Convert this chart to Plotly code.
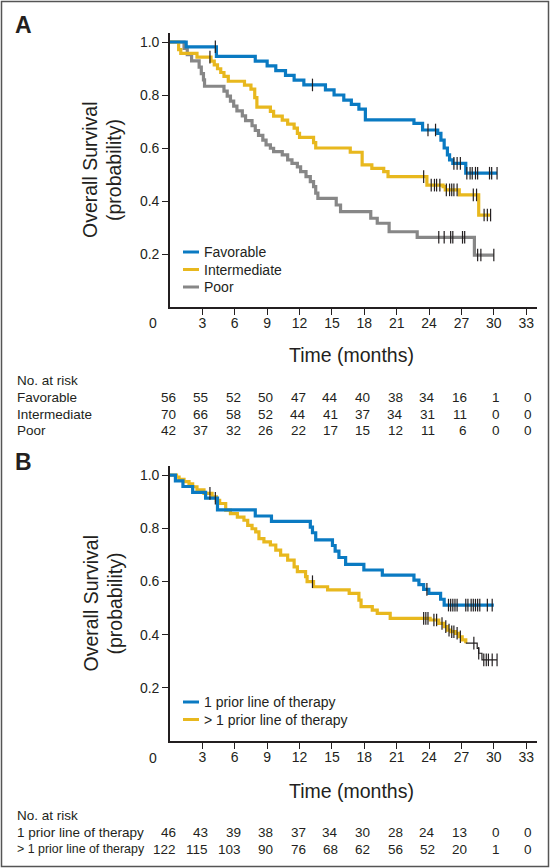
import numpy as np
import plotly.graph_objects as go

W, H = 551, 868

# ---------------- Panel A data ----------------
A_FAV_T = [0, 1.5, 4.3, 7.9, 9.0, 9.8, 10.7, 11.5, 12.4, 14.4, 15.2, 16.1, 16.8, 17.5, 18.1,
           22.6, 23.4, 24.8, 25.1, 25.4, 25.7, 25.9, 26.2, 27.4]
A_FAV_S = [1.0, 0.982, 0.946, 0.928, 0.910, 0.892, 0.874, 0.856, 0.838, 0.819, 0.800, 0.781,
           0.765, 0.747, 0.706, 0.693, 0.668, 0.655, 0.630, 0.600, 0.574, 0.555, 0.542, 0.505]
A_FAV_END = 30.3
A_FAV_CENS = [4.2, 13.2, 23.9, 24.6, 26.3, 26.6, 26.9, 27.5, 27.8, 28.0, 28.3, 28.5, 29.6, 29.8, 30.3]

A_INT_T = [0, 0.8, 1.0, 2.5, 3.8, 4.1, 4.4, 4.7, 5.0, 5.4, 6.9, 7.5, 7.85, 8.05, 9.3, 9.6, 10.4,
           10.9, 11.5, 11.8, 12.0, 13.3, 13.5, 16.7, 17.8, 18.7, 19.8, 20.2, 23.8, 25.3, 25.5,
           26.8, 28.6]
A_INT_S = [1.0, 0.971, 0.957, 0.943, 0.928, 0.914, 0.899, 0.885, 0.870, 0.852, 0.837, 0.822,
           0.790, 0.754, 0.738, 0.720, 0.705, 0.690, 0.675, 0.655, 0.640, 0.620, 0.600, 0.584,
           0.536, 0.523, 0.511, 0.492, 0.460, 0.454, 0.442, 0.423, 0.347]
A_INT_END = 29.7
A_INT_CENS = [3.7, 23.5, 24.2, 24.5, 24.7, 25.0, 25.6, 25.9, 26.1, 26.3, 26.6, 28.1, 28.4,
              29.1, 29.4, 29.7]

A_POOR_T = [0, 1.3, 1.6, 2.0, 2.7, 2.9, 3.1, 3.2, 5.0, 5.3, 5.6, 5.9, 6.2, 6.7, 7.0, 7.6, 7.9,
            8.2, 8.6, 8.9, 9.3, 9.6, 10.4, 10.9, 11.3, 11.8, 12.1, 12.6, 13.0, 13.3, 13.5, 13.7,
            15.4, 15.8, 18.6, 19.2, 20.3, 22.9, 28.2]
A_POOR_S = [1.0, 0.976, 0.952, 0.929, 0.905, 0.881, 0.857, 0.833, 0.815, 0.796, 0.777, 0.758,
            0.740, 0.721, 0.703, 0.684, 0.666, 0.648, 0.630, 0.612, 0.599, 0.586, 0.574, 0.555,
            0.542, 0.529, 0.511, 0.492, 0.473, 0.454, 0.430, 0.410, 0.385, 0.360, 0.335, 0.316,
            0.284, 0.263, 0.196]
A_POOR_END = 30.0
A_POOR_CENS = [24.9, 25.4, 26.0, 26.2, 27.1, 27.3, 28.5, 28.8, 30.0]

A_GROUPS = ["Favorable", "Intermediate", "Poor"]
A_RISK = {
    "Favorable": [56, 55, 52, 50, 47, 44, 40, 38, 34, 16, 1, 0],
    "Intermediate": [70, 66, 58, 52, 44, 41, 37, 34, 31, 11, 0, 0],
    "Poor": [42, 37, 32, 26, 22, 17, 15, 12, 11, 6, 0, 0],
}

# ---------------- Panel B data ----------------
B_ONE_T = [0, 0.5, 1.2, 2.1, 3.3, 4.4, 7.9, 9.4, 13.0, 13.2, 13.5, 15.05, 15.3, 15.65, 16.27,
           17.96, 19.67, 22.6, 23.06, 23.5, 23.98, 25.07, 25.4]
B_ONE_S = [1.0, 0.978, 0.957, 0.935, 0.913, 0.869, 0.846, 0.826, 0.804, 0.783, 0.756, 0.735,
           0.714, 0.690, 0.664, 0.643, 0.624, 0.605, 0.588, 0.570, 0.555, 0.533, 0.511]
B_ONE_END = 30.0
B_ONE_CENS = [4.2, 23.8, 25.8, 26.0, 26.2, 26.4, 26.6, 27.4, 27.6, 27.9, 28.1, 28.3, 28.5,
              28.7, 29.4, 29.85]

B_GT1_T = [0, 0.6, 0.84, 1.3, 1.76, 2.1, 2.5, 3.15, 3.9, 4.3, 4.6, 5.16, 5.6, 6.24, 6.85, 7.2,
           7.6, 7.94, 8.24, 8.7, 9.3, 9.8, 10.25, 10.9, 11.5, 11.8, 12.56, 12.7, 13.3, 14.6,
           16.6, 17.5, 17.7, 18.74, 19.2, 20.4, 24.1, 24.9, 25.4, 25.7, 26.0, 26.45, 26.76,
           27.07, 27.4, 28.46, 28.6, 28.9]
B_GT1_S = [1.0, 0.992, 0.984, 0.975, 0.967, 0.956, 0.944, 0.931, 0.918, 0.905, 0.893, 0.868,
           0.855, 0.842, 0.830, 0.811, 0.798, 0.786, 0.761, 0.749, 0.737, 0.718, 0.699, 0.680,
           0.655, 0.637, 0.618, 0.599, 0.580, 0.568, 0.555, 0.530, 0.505, 0.492, 0.480, 0.461,
           0.455, 0.442, 0.430, 0.417, 0.411, 0.405, 0.392, 0.380, 0.368, 0.348, 0.330, 0.305]
B_GT1_END = 30.3
B_GT1_TAIL = 27.4   # from here on the curve is drawn as a thin black line
B_GT1_CENS = [3.7, 13.2, 23.5, 23.7, 23.9, 24.45, 24.7, 25.2, 25.55, 25.85, 26.1, 26.3, 26.6,
              26.9, 28.15, 28.6, 29.07, 29.3, 29.5, 29.85, 30.3]

B_GROUPS = ["1 prior line of therapy", "> 1 prior line of therapy"]
B_RISK = {
    "1 prior line of therapy": [46, 43, 39, 38, 37, 34, 30, 28, 24, 13, 0, 0],
    "> 1 prior line of therapy": [122, 115, 103, 90, 76, 68, 62, 56, 52, 20, 1, 0],
}

RISK_TIMES = [0, 3, 6, 9, 12, 15, 18, 21, 24, 27, 30, 33]
X_TICKS = [3, 6, 9, 12, 15, 18, 21, 24, 27, 30, 33]
Y_TICKS = [0.2, 0.4, 0.6, 0.8, 1.0]

# ---------------- styling ----------------
BLUE = "#0a7ac2"
YELLOW = "#e8b81e"
GREY = "#878787"
INK = "#231f20"
REG = "Liberation Sans, Arial, sans-serif"


def fx(p):
    return p / W


def fy(p):
    return 1 - p / H


fig = go.Figure()


def add_step(t, s, end, color, width, xa, ya):
    x = list(t) + [end]
    y = list(s) + [s[-1]]
    fig.add_trace(go.Scatter(x=x, y=y, mode="lines", xaxis=xa, yaxis=ya,
                             line=dict(color=color, width=width, shape="hv"),
                             showlegend=False, hoverinfo="skip"))


def add_cens(t, s, cens, xa, ya):
    idx = np.searchsorted(np.array(t), np.array(cens), side="right") - 1
    y = np.array(s)[idx]
    fig.add_trace(go.Scatter(x=cens, y=y, mode="markers", xaxis=xa, yaxis=ya,
                             marker=dict(symbol="line-ns", size=9,
                                         line=dict(width=1.2, color=INK)),
                             showlegend=False, hoverinfo="skip"))


# Panel A curves
add_step(A_POOR_T, A_POOR_S, A_POOR_END, GREY, 3.2, "x", "y")
add_step(A_INT_T, A_INT_S, A_INT_END, YELLOW, 3.2, "x", "y")
add_step(A_FAV_T, A_FAV_S, A_FAV_END, BLUE, 3.2, "x", "y")
add_cens(A_POOR_T, A_POOR_S, A_POOR_CENS, "x", "y")
add_cens(A_INT_T, A_INT_S, A_INT_CENS, "x", "y")
add_cens(A_FAV_T, A_FAV_S, A_FAV_CENS, "x", "y")

# Panel B curves
k = int(np.searchsorted(B_GT1_T, B_GT1_TAIL))
add_step(B_GT1_T[:k + 1], B_GT1_S[:k + 1], B_GT1_TAIL, YELLOW, 3.2, "x2", "y2")
add_step(B_GT1_T[k:], B_GT1_S[k:], B_GT1_END, INK, 1.2, "x2", "y2")
add_step(B_ONE_T, B_ONE_S, B_ONE_END, BLUE, 3.2, "x2", "y2")
add_cens(B_GT1_T, B_GT1_S, B_GT1_CENS, "x2", "y2")
add_cens(B_ONE_T, B_ONE_S, B_ONE_CENS, "x2", "y2")

# ---------------- axes ----------------
XDOM = [fx(170), fx(537)]
axis_common = dict(showline=True, linecolor=INK, linewidth=1.6, ticks="outside", ticklen=6,
                   tickwidth=1.3, tickcolor=INK, showgrid=False, zeroline=False,
                   tickfont=dict(size=14, family=REG, color=INK), fixedrange=True)

fig.update_layout(
    xaxis=dict(domain=XDOM, range=[0, 34], tickvals=X_TICKS, anchor="y",
               ticklabelstandoff=-4, **axis_common),
    yaxis=dict(domain=[fy(307), fy(33)], range=[0, 1.034], tickvals=Y_TICKS, tickformat=".1f",
               anchor="x", **axis_common),
    xaxis2=dict(domain=XDOM, range=[0, 34], tickvals=X_TICKS, anchor="y2",
                ticklabelstandoff=-4, **axis_common),
    yaxis2=dict(domain=[fy(741), fy(466)], range=[0, 1.034], tickvals=Y_TICKS, tickformat=".1f",
                anchor="x2", **axis_common),
)

ann = []
shapes = []


def text(xp, yp, s, size, xanchor="center", angle=0, bold=False):
    ann.append(dict(x=fx(xp), y=fy(yp), xref="paper", yref="paper",
                    text=("<b>%s</b>" % s) if bold else s, textangle=angle,
                    xanchor=xanchor, yanchor="middle", showarrow=False,
                    font=dict(size=size, family=REG, color=INK)))


# "0" label left of the axis origin
text(153, 323, "0", 14)
text(153, 758, "0", 14)

# axis titles
for yc in (170, 603.5):
    text(90, yc, "Overall Survival", 19.5, angle=-90)
    text(114, yc, "(probability)", 19.5, angle=-90)
for yc in (355, 791):
    text(351, yc, "Time (months)", 19.5)

# panel letters
text(23, 25, "A", 23, bold=True)
text(23, 462, "B", 23, bold=True)


# legends (manual, short line samples)
def legend(entries, ys):
    for (label, color), yc in zip(entries, ys):
        shapes.append(dict(type="line", xref="paper", yref="paper", x0=fx(183), x1=fx(199),
                           y0=fy(yc), y1=fy(yc), line=dict(color=color, width=3)))
        text(202, yc, label, 14, xanchor="left")


legend(list(zip(A_GROUPS, [BLUE, YELLOW, GREY])), [252, 269.5, 287])
legend(list(zip(B_GROUPS, [BLUE, YELLOW])), [702, 719.5])


# risk tables (row labels fitted to the same width as in the original)
def risk_table(groups, table, xr, y_head, ys, label_sizes):
    text(15, y_head, "No. at risk", 13.5, xanchor="left")
    for g, yc, ls in zip(groups, ys, label_sizes):
        text(15, yc, g, ls, xanchor="left")
        for t, n in zip(RISK_TIMES, table[g]):
            ann.append(dict(x=t, y=fy(yc), xref=xr, yref="paper", text=str(n),
                            xanchor="right", yanchor="middle", xshift=8, showarrow=False,
                            font=dict(size=13.5, family=REG, color=INK)))


risk_table(A_GROUPS, A_RISK, "x", 381, [397, 414, 430], [13.5, 13.5, 13.5])
risk_table(B_GROUPS, B_RISK, "x2", 815, [832, 849], [13.5, 12.4])

# outer frame
shapes.append(dict(type="rect", xref="paper", yref="paper", x0=fx(1.5), x1=fx(548.5),
                   y0=fy(866.5), y1=fy(1.5), line=dict(color="#555555", width=1.5)))

fig.update_layout(width=W, height=H, margin=dict(l=0, r=0, t=0, b=0),
                  paper_bgcolor="white", plot_bgcolor="white", showlegend=False,
                  annotations=ann, shapes=shapes,
                  font=dict(family=REG, color=INK))

fig.write_html("out.html", config={"displayModeBar": False},
               post_script="document.body.style.margin='0';")
